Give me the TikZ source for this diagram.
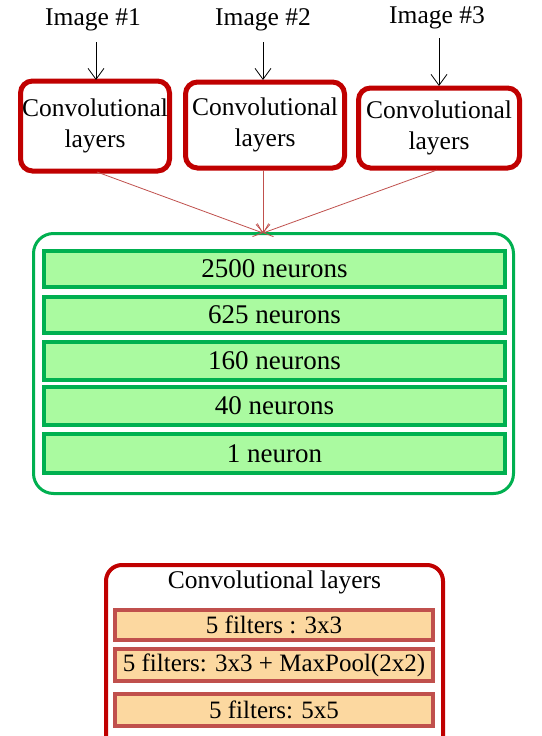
\documentclass[tikz,border=0pt]{standalone}
\usepackage{fontspec}
\setmainfont{Liberation Serif}
\newfontfamily\timesfont{Liberation Serif}
\usetikzlibrary{arrows.meta}

\definecolor{convred}{HTML}{C00000}
\definecolor{filtred}{HTML}{C0504D}
\definecolor{netgreen}{HTML}{00B050}
\definecolor{neurfill}{HTML}{AAFAA0}
\definecolor{filtfill}{HTML}{FCD8A0}

\tikzset{
  imglabel/.style = {font=\timesfont\fontsize{25.5}{30}\selectfont, inner sep=0pt},
  convbox/.style = {draw=convred, line width=5pt, rounded corners=12pt, align=center,
                    inner sep=0pt, font=\timesfont\fontsize{25.5}{31}\selectfont},
  layerbox/.style = {draw=netgreen, fill=neurfill, line width=4pt, minimum width=461pt,
                     inner sep=0pt, font=\timesfont\fontsize{27}{30}\selectfont},
  filterbox/.style = {draw=filtred, fill=filtfill, line width=4pt, minimum width=318pt,
                      inner sep=0pt, font=\timesfont\fontsize{25}{30}\selectfont},
  inarrow/.style = {-{Straight Barb[length=11pt,width=16pt]}, black, line width=0.8pt},
  merge/.style = {-{Straight Barb[length=8pt,width=14pt]}, filtred, line width=0.8pt}
}

\begin{document}
\begin{tikzpicture}[x=1pt, y=-1pt]
  \useasboundingbox[fill=white] (0,0) rectangle (541,736);
  \clip (0,0) rectangle (541,736);

  % input images
  \node[imglabel] (img1) at (93, 20) {Image \#1};
  \node[imglabel] (img2) at (263, 20) {Image \#2};
  \node[imglabel] (img3) at (437, 18) {Image \#3};

  % convolutional stacks
  \node[convbox, minimum width=149pt, minimum height=90pt] (conv1) at (95, 126) {Convolutional\\layers};
  \node[convbox, minimum width=159pt, minimum height=86pt] (conv2) at (265, 125) {Convolutional\\layers};
  \node[convbox, minimum width=161pt, minimum height=80pt] (conv3) at (439, 128) {Convolutional\\layers};

  \draw[inarrow] (96, 42) -- (96, 80);
  \draw[inarrow] (263, 42) -- (263, 80);
  \draw[inarrow] (439, 38) -- (439, 86);

  % fully connected part
  \node[draw=netgreen, line width=3pt, rounded corners=20pt, minimum width=480pt,
        minimum height=260pt] (mlp) at (273.5, 363.5) {};
  \coordinate (join) at (263, 233);

  \node[layerbox, minimum height=36pt] (l2500) at (274.5, 269) {2500 neurons};
  \node[layerbox, minimum height=36pt] (l625)  at (274.5, 315) {625 neurons};
  \node[layerbox, minimum height=38pt] (l160)  at (274.5, 361) {160 neurons};
  \node[layerbox, minimum height=38pt] (l40)   at (274.5, 406) {40 neurons};
  \node[layerbox, minimum height=39pt] (l1)    at (274.5, 453.5) {1 neuron};

  \draw[merge] (97, 172) -- (join);
  \draw[merge] (263, 170) -- (join);
  \draw[merge] (437, 170) -- (join);

  % detail of one convolutional stack
  \draw[convred, line width=4pt, rounded corners=16pt] (106, 760) -- (106, 565) -- (443, 565) -- (443, 760);
  \node[imglabel, anchor=base] (convtitle) at (274.5, 588) {Convolutional layers};

  \node[filterbox, minimum height=30pt] (f1) at (274, 625) {5 filters : 3x3};
  \node[filterbox, minimum height=32pt] (f2) at (274, 665) {5 filters: 3x3 + MaxPool(2x2)};
  \node[filterbox, minimum height=32pt] (f3) at (274, 710) {5 filters: 5x5};
\end{tikzpicture}
\end{document}
